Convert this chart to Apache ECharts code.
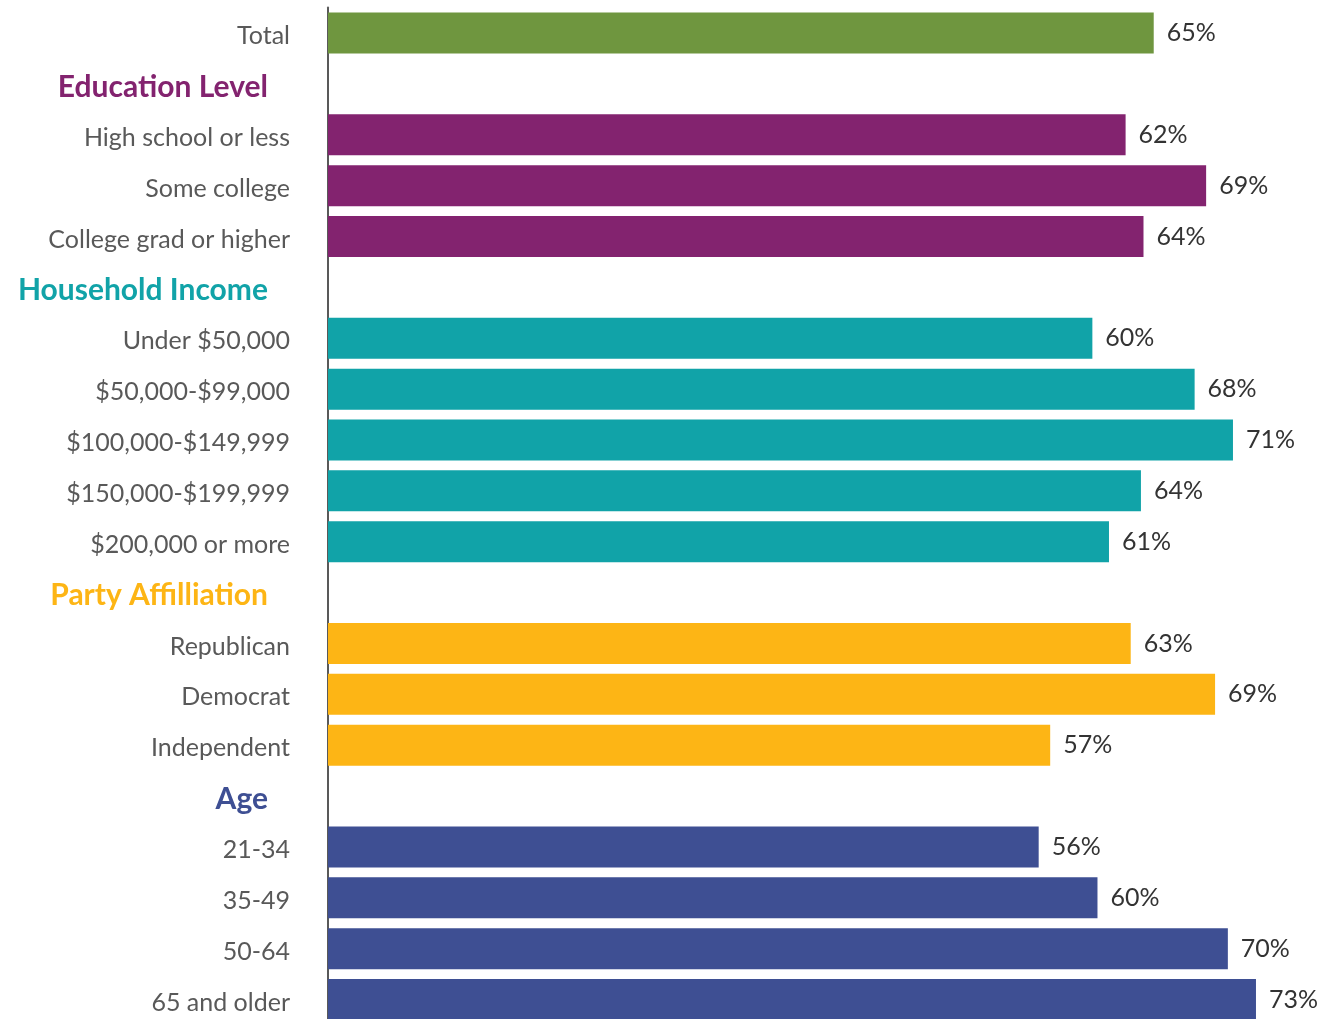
<!DOCTYPE html>
<html>
<head>
<meta charset="utf-8">
<script src="https://cdn.jsdelivr.net/npm/echarts@6/dist/echarts.min.js"></script>
<style>
  html, body { margin: 0; padding: 0; background: #fff; }
  #chart { width: 1330px; height: 1019px; }
</style>
</head>
<body>
<div id="chart"></div>
<script>
// rows top to bottom; headers have no value
const categories = [
  'Total',
  'Education Level', 'High school or less', 'Some college', 'College grad or higher',
  'Household Income', 'Under $50,000', '$50,000-$99,000', '$100,000-$149,999', '$150,000-$199,999', '$200,000 or more',
  'Party Affilliation', 'Republican', 'Democrat', 'Independent',
  'Age', '21-34', '35-49', '50-64', '65 and older',
]
const values = [
  64.6,
  null, 62.4, 68.7, 63.8,
  null, 59.8, 67.8, 70.8, 63.6, 61.1,
  null, 62.8, 69.4, 56.5,
  null, 55.6, 60.2, 70.4, 72.6,
]
const groups = [
  'total',
  'edu', 'edu', 'edu', 'edu',
  'inc', 'inc', 'inc', 'inc', 'inc', 'inc',
  'party', 'party', 'party', 'party',
  'age', 'age', 'age', 'age', 'age',
]

const colors = {
  total: '#6f963f',
  edu: '#83236f',
  inc: '#11a3a8',
  party: '#fdb515',
  age: '#3e4f93',
}
const FONT = 'Lato'

const rich = {}
Object.keys(colors).forEach((g) => {
  rich[g] = {
    color: colors[g],
    fontFamily: FONT,
    fontWeight: 'bold',
    fontSize: 30,
    padding: [0, 22, 0, 0],
  }
})

const chart = echarts.init(document.getElementById('chart'))
chart.setOption({
  animation: false,
  grid: { left: 328, right: 5, top: 7.6, height: 1017.4, outerBoundsMode: 'none' },
  xAxis: {
    type: 'value',
    min: 0,
    max: 78,
    show: false,
    splitLine: { show: false },
  },
  yAxis: {
    type: 'category',
    inverse: true,
    data: categories,
    axisTick: { show: false },
    axisLine: { show: true, lineStyle: { color: '#595959', width: 2 } },
    axisLabel: {
      margin: 38,
      color: '#595959',
      fontFamily: FONT,
      fontSize: 25,
      padding: [6, 0, 0, 0],
      rich,
      formatter: (v, i) => (values[i] == null ? '{' + groups[i] + '|' + v + '}' : v),
    },
  },
  series: [
    {
      type: 'bar',
      barWidth: 41,
      data: values.map((v, i) => ({ value: v, itemStyle: { color: colors[groups[i]] } })),
      label: {
        show: true,
        position: 'right',
        distance: 13,
        color: '#333',
        fontFamily: FONT,
        fontSize: 25,
        formatter: (p) => Math.round(p.value) + '%',
      },
    },
  ],
})
</script>
</body>
</html>
